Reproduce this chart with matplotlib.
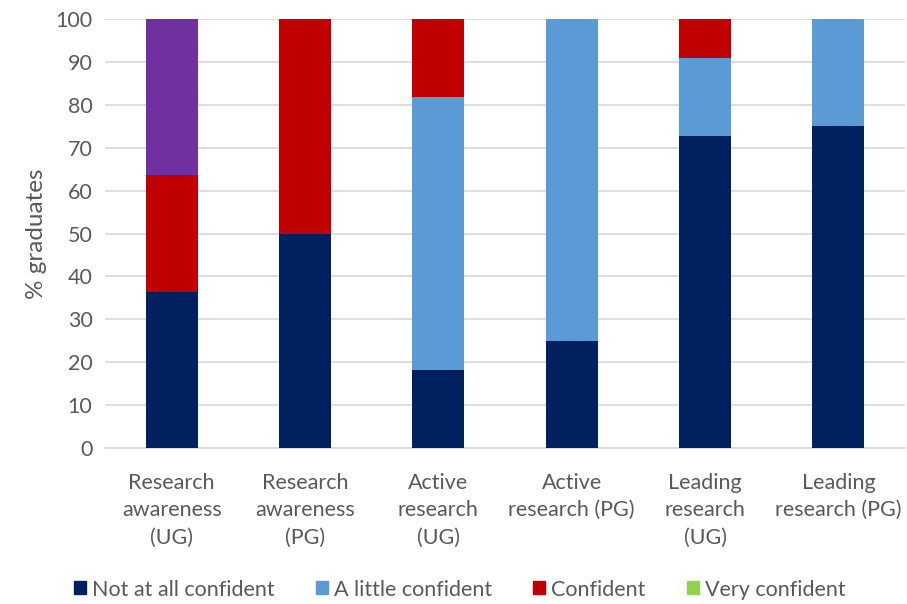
import numpy as np
import matplotlib
matplotlib.use("Agg")
import matplotlib.pyplot as plt
from matplotlib.patches import Patch

categories = [
    "Research\nawareness\n(UG)",
    "Research\nawareness\n(PG)",
    "Active\nresearch\n(UG)",
    "Active\nresearch (PG)",
    "Leading\nresearch\n(UG)",
    "Leading\nresearch (PG)",
]
not_at_all = [36.4, 50.0, 18.2, 25.0, 72.7, 75.0]
a_little = [0.0, 0.0, 63.6, 75.0, 18.2, 25.0]
confident = [27.3, 50.0, 18.2, 0.0, 9.1, 0.0]
very_confident = [0.0, 0.0, 0.0, 0.0, 0.0, 0.0]
other = [36.4, 0.0, 0.0, 0.0, 0.0, 0.0]  # purple segment, not in legend

series = [
    ("Not at all confident", not_at_all, "#002060"),
    ("A little confident", a_little, "#5B9BD5"),
    ("Confident", confident, "#C00000"),
    ("Very confident", very_confident, "#92D050"),
    ("_other", other, "#7030A0"),
]

plt.rcParams["font.family"] = ["Lato", "DejaVu Sans"]
text_col = "#595959"

fig = plt.figure(figsize=(9.07, 6.04), dpi=100)
ax = fig.add_axes([0.1158, 0.2583, 0.882, 0.7102])

x = np.arange(len(categories))
bottom = np.zeros(len(categories))
for name, vals, col in series:
    vals = np.array(vals)
    ax.bar(x, vals, width=0.39, bottom=bottom, color=col, zorder=3)
    bottom += vals

ax.set_xlim(-0.5, len(categories) - 0.5)
ax.set_ylim(0, 100)
ax.set_yticks(range(0, 101, 10))
ax.yaxis.grid(True, color="#D9D9D9", linewidth=1.2, zorder=0)
ax.set_xticks(x)
ax.set_xticklabels(categories, fontsize=15.5, color=text_col, linespacing=1.45)
ax.tick_params(axis="y", labelsize=15.5, colors=text_col, length=0, pad=9)
ax.tick_params(axis="x", length=0, pad=18)
ax.set_ylabel("% graduates", fontsize=17.5, color=text_col, labelpad=6)
for s in ["top", "right", "left"]:
    ax.spines[s].set_visible(False)
ax.spines["bottom"].set_color("#D9D9D9")
ax.spines["bottom"].set_linewidth(1.2)

handles = [Patch(color=c, label=n) for n, v, c in series if not n.startswith("_")]
fig.legend(handles=handles, loc="center", bbox_to_anchor=(0.507, 0.024), ncol=4,
           frameon=False, fontsize=15.5, labelcolor=text_col, handlelength=0.55,
           handleheight=0.55, handletextpad=0.3, columnspacing=1.9)

fig.savefig("out.png", dpi=100)
